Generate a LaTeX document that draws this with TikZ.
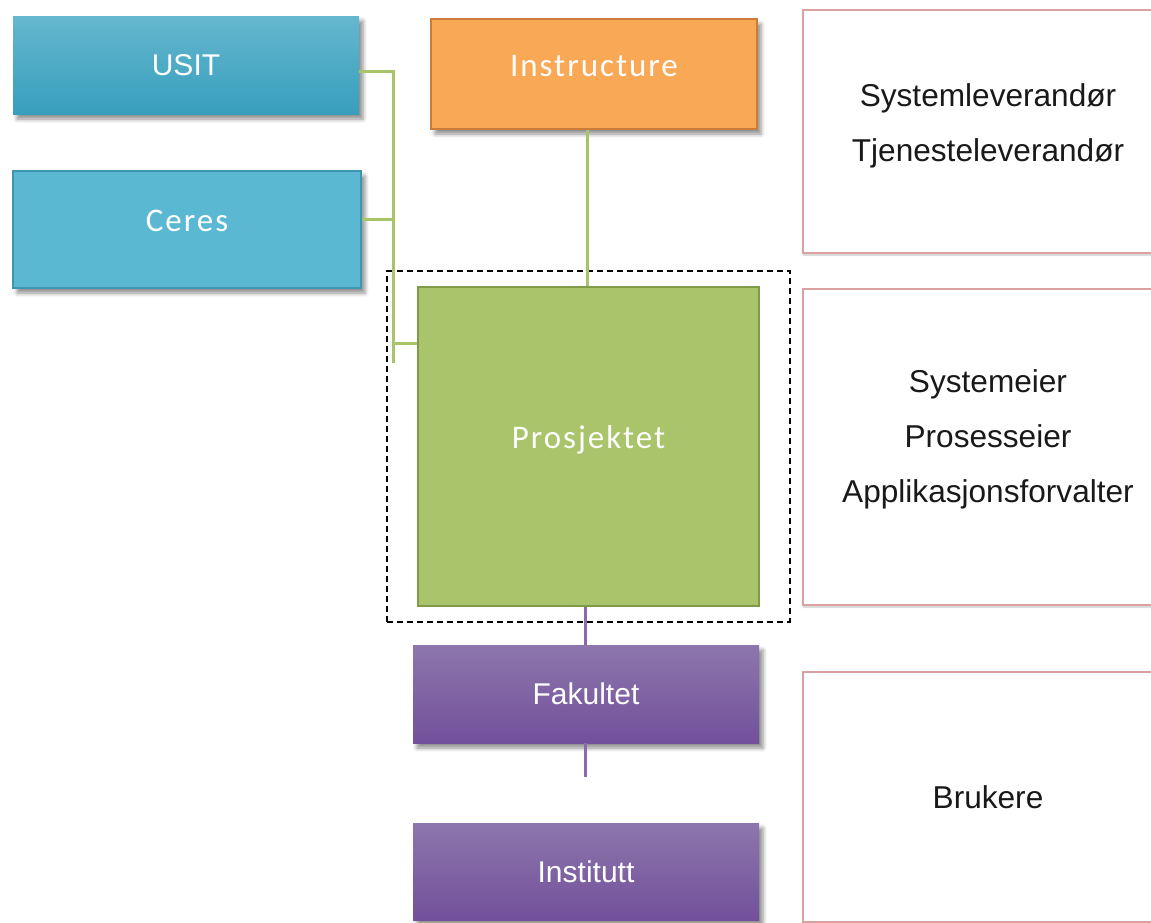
\documentclass[tikz,border=0pt]{standalone}
\usepackage{fontspec}
\setmainfont{Liberation Sans}
\newfontfamily\calfont[LetterSpace=6]{Carlito}
\usetikzlibrary{shadows.blur,fit}
\definecolor{usittop}{HTML}{65B7CF}
\definecolor{usitbot}{HTML}{379FBC}
\definecolor{ceresfill}{HTML}{5BB8D3}
\definecolor{ceresline}{HTML}{3F94AE}
\definecolor{instrfill}{HTML}{F9A856}
\definecolor{instrline}{HTML}{CC7C3A}
\definecolor{prosjfill}{HTML}{AAC46C}
\definecolor{prosjline}{HTML}{7F9A49}
\definecolor{purptop}{HTML}{8D76AD}
\definecolor{purpbot}{HTML}{72509A}
\definecolor{greenlink}{HTML}{A8C468}
\definecolor{purplink}{HTML}{8A6AAB}
\definecolor{rose}{HTML}{DBA0A0}
\tikzset{
  orgbox/.style={minimum width=346pt, minimum height=98pt, inner sep=0pt, text=white},
  shadowed/.style={blur shadow={shadow xshift=4pt, shadow yshift=-5pt, shadow blur radius=4pt, shadow opacity=45}},
  gradbox/.style 2 args={orgbox, shadowed, top color=#1, bottom color=#2, font=\fontsize{30}{36}\selectfont},
  flatbox/.style 2 args={orgbox, fill=#1, draw=#2, line width=1.5pt, font=\calfont\fontsize{33}{38}\selectfont, text height=22pt, text depth=18pt},
  rolebox/.style={draw=rose, line width=2pt, minimum width=370pt, inner sep=0pt,
    blur shadow={shadow xshift=0pt, shadow yshift=-2pt, shadow blur radius=1.5pt, shadow opacity=20}, fill=white},
  roletext/.style={align=center, font=\fontsize{31.6}{55}\selectfont, text=black!90},
  link/.style={draw=#1, line width=3pt}
}
\begin{document}
\begin{tikzpicture}[x=1pt, y=-1pt]
\useasboundingbox (0,0) rectangle (1151,922);

% suppliers
\node[gradbox={usittop}{usitbot}] (usit) at (186,65) {USIT};
\node[flatbox={ceresfill}{ceresline}, shadowed, minimum width=348pt, minimum height=117pt] (ceres) at (187,229.5) {Ceres};
\node[flatbox={instrfill}{instrline}, shadowed, minimum width=326pt, minimum height=110pt] (instr) at (594,74) {Instructure};

% project
\node[flatbox={prosjfill}{prosjline}, minimum width=341pt, minimum height=319pt] (prosj) at (588.5,446.5) {Prosjektet};
\node[draw, dashed, dash pattern=on 6pt off 4pt, line width=2pt, inner xsep=30pt, inner ysep=15pt, fit=(prosj)] (frame) {};

% users
\node[gradbox={purptop}{purpbot}] (fak) at (586,694) {Fakultet};
\node[gradbox={purptop}{purpbot}, minimum height=97pt] (inst) at (586,871.5) {Institutt};

% roles
\node[rolebox, minimum height=243pt] (lev) at (988,131.5) {};
\node[roletext] (levtext) at ([yshift=6pt]lev.center) {Systemleverandør\\Tjenesteleverandør};
\node[rolebox, minimum height=316pt] (eier) at (988,447) {};
\node[roletext] (eiertext) at ([yshift=7.5pt]eier.center) {Systemeier\\Prosesseier\\Applikasjonsforvalter};
\node[rolebox, minimum height=250pt] (bruk) at (988,797) {};
\node[roletext] (bruktext) at (bruk.center) {Brukere};

% connectors
\coordinate (bus) at (393,363);
\draw[link=greenlink] ([yshift=-6pt]usit.east) -| (bus);
\draw[link=greenlink] ([yshift=10.5pt]ceres.east) coordinate (cj) -- (cj -| bus);
\draw[link=greenlink] ([yshift=103.5pt]prosj.west) coordinate (pj) -- (pj -| bus);
\draw[link=greenlink] ([xshift=-1.5pt]prosj.north) coordinate (ij) -- (ij |- instr.south);
\coordinate (pk) at ([xshift=-1pt]fak.north);
\draw[link=purplink] (pk |- prosj.south) -- (pk);
\path ([xshift=-1pt]fak.south) ++(0,34) coordinate (stub);
\draw[link=purplink] ([xshift=-1pt]fak.south) -- (stub);
\end{tikzpicture}
\end{document}
